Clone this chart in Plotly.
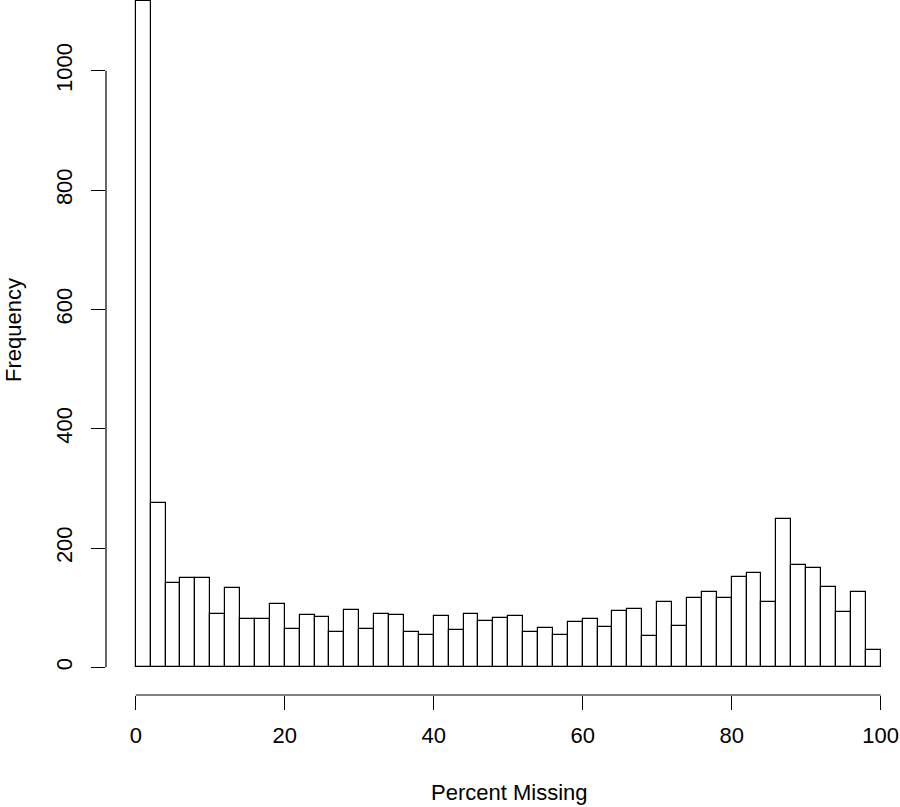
import numpy as np
import plotly.graph_objects as go

# Histogram of percent missing: 50 bins of width 2 from 0 to 100
bin_start = 0
bin_width = 2
counts = [1117, 276, 142, 150, 149, 90, 133, 81, 81, 107,
          64, 87, 84, 59, 96, 64, 90, 87, 60, 54,
          86, 62, 90, 77, 83, 86, 60, 66, 54, 76,
          81, 68, 95, 98, 52, 110, 69, 116, 126, 117,
          152, 159, 110, 249, 172, 167, 135, 92, 126, 29]
x_ticks = [0, 20, 40, 60, 80, 100]
y_ticks = [0, 200, 400, 600, 800, 1000]
x_title = "Percent Missing"
y_title = "Frequency"

centers = bin_start + bin_width * (np.arange(len(counts)) + 0.5)

font = dict(family="Liberation Sans, Arial, sans-serif", size=22, color="black")

fig = go.Figure(go.Bar(
    x=centers, y=counts, width=bin_width,
    marker=dict(color="white", line=dict(color="black", width=1.2)),
    hoverinfo="x+y",
))

fig.update_layout(
    width=900, height=807,
    margin=dict(l=106, r=0, t=0, b=112, pad=0),
    paper_bgcolor="white", plot_bgcolor="white",
    font=font, showlegend=False, bargap=0,
    xaxis=dict(range=[-4, 102.6], tickvals=x_ticks, ticks="outside", ticklen=14,
               tickwidth=1.2, tickcolor="black", showgrid=False, zeroline=False,
               showline=False, ticklabelstandoff=7, automargin=False),
    yaxis=dict(range=[-46.3, 1118.5], tickvals=y_ticks, ticks="outside", ticklen=14,
               tickwidth=1.2, tickcolor="black", showgrid=False, zeroline=False,
               showline=False, tickangle=-90, ticklabelstandoff=10, automargin=False),
    shapes=[
        dict(type="line", xref="x", yref="paper", x0=x_ticks[0], x1=x_ticks[-1], y0=0, y1=0,
             line=dict(color="black", width=1.2)),
        dict(type="line", xref="paper", yref="y", x0=0, x1=0, y0=y_ticks[0], y1=y_ticks[-1],
             line=dict(color="black", width=1.2)),
    ],
    annotations=[
        dict(text=x_title, xref="paper", yref="paper", x=0.5076, y=-0.141,
             xanchor="center", yanchor="middle", showarrow=False, font=font),
        dict(text=y_title, xref="paper", yref="paper", x=-0.1159, y=0.5252,
             xanchor="center", yanchor="middle", textangle=-90, showarrow=False, font=font),
    ],
)

fig.write_html("out.html", config={"displayModeBar": False},
               post_script="document.body.style.margin='0';document.body.style.overflow='hidden';")
